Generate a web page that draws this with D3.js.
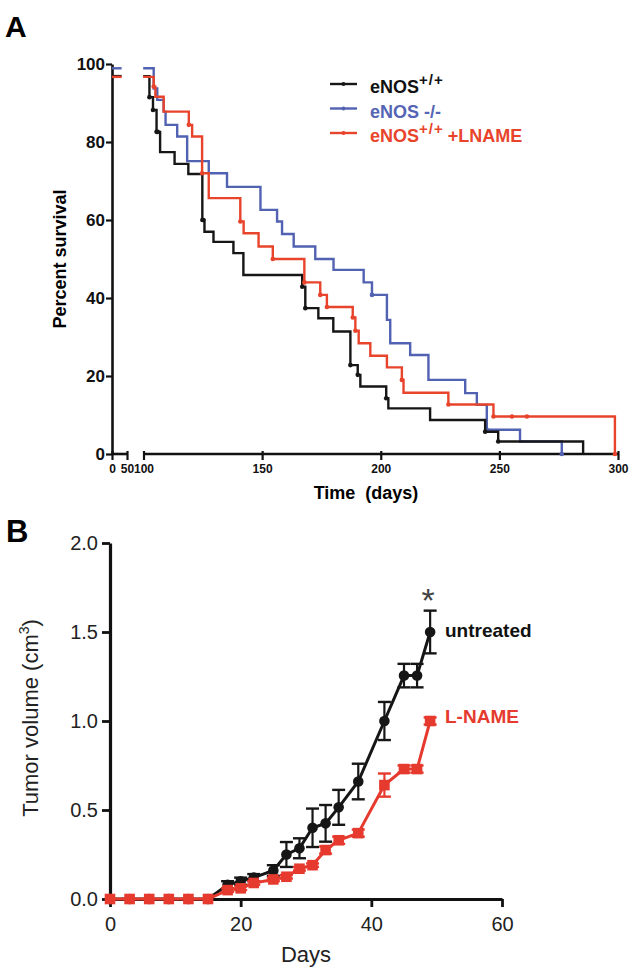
<!DOCTYPE html>
<html><head><meta charset="utf-8">
<script src="https://cdn.jsdelivr.net/npm/d3@7"></script>
<style>
body{margin:0;background:#fff}
svg{display:block}
text{font-family:"Liberation Sans",Arial,Helvetica,sans-serif}
</style>
</head><body>
<svg id="c" width="637" height="970"></svg>
<script>
// ---------- Panel A data (Kaplan-Meier) ----------
const survTicks = [0, 20, 40, 60, 80, 100];
const timeTicksLow = [0, 50];
const timeTicksHigh = [100, 150, 200, 250, 300];

const wtTimes = [99, 102.5, 104, 105.5, 107, 113.1, 118.9, 124.8, 125.7, 129.5, 137.9, 142.1, 166.9, 168.2, 173.7, 180.0, 187.2, 190.3, 191.4, 202.3, 203.2, 220.8, 244.0, 249.5, 285.3];
const wtSurv  = [96.9, 91.5, 88.2, 82.6, 77.4, 74.4, 71.8, 60.0, 57.0, 54.4, 51.5, 45.9, 42.9, 37.4, 34.8, 31.4, 22.8, 20.3, 17.3, 14.3, 11.7, 8.7, 5.7, 3.2, 0];
const wtCensor = [102.5, 104, 105.5, 106, 124.8, 125.2, 166.9, 168.2, 187.2, 190.3, 202.3, 244.0, 249.5];

const koTimes = [99, 104.3, 105.8, 108.5, 109.3, 114.2, 118.4, 127.5, 135.2, 149.3, 156.3, 158.4, 163.3, 172.4, 180.1, 192.8, 196.3, 202.6, 204.0, 212.4, 220.1, 235.6, 240.5, 244.7, 258.7, 276.3];
const koSurv  = [98.9, 93.7, 90.8, 87.8, 84.4, 81.4, 75.1, 72.0, 68.5, 62.6, 59.6, 56.4, 53.2, 50.0, 47.2, 44.0, 40.8, 34.4, 28.4, 25.4, 19.0, 15.6, 12.6, 6.2, 3.2, 0];
const koCensor = [196.3, 244.7, 276.3];

const lnTimes = [99, 104.3, 105, 108.5, 119.1, 120.5, 124.7, 127.5, 140.8, 142.2, 148.5, 154.5, 167.8, 174.5, 177.3, 188.2, 189.3, 190.7, 195.6, 202.6, 208.9, 209.6, 228.5, 247.5, 298.7];
const lnSurv  = [96.7, 94.2, 91.6, 87.8, 84.4, 81.4, 72.0, 65.6, 59.6, 56.6, 53.2, 50.0, 44.0, 40.8, 37.7, 35.0, 31.6, 28.4, 25.2, 22.2, 19.0, 15.7, 12.7, 9.6, 0];
const lnCensor = [104.3, 119.1, 124.7, 140.8, 154.5, 167.8, 174.5, 177.3, 188.2, 189.3, 208.9, 228.5, 247.5, 255.3, 261.6, 298.7];

const legendLabels = ["eNOS", "eNOS -/-", "eNOS"];

// ---------- Panel B data (tumor volume) ----------
const days = [0, 3, 6, 9, 12, 15, 18, 20, 22, 25, 27, 29, 31, 33, 35, 38, 42, 45, 47, 49];
const untreated    = [0, 0, 0, 0, 0, 0, 0.08, 0.10, 0.12, 0.16, 0.25, 0.285, 0.40, 0.425, 0.515, 0.66, 1.00, 1.255, 1.255, 1.50];
const untreatedErr = [0, 0, 0, 0, 0, 0, 0.02, 0.02, 0.02, 0.03, 0.07, 0.056, 0.108, 0.103, 0.098, 0.10, 0.107, 0.066, 0.066, 0.12];
const lname    = [0, 0, 0, 0, 0, 0, 0.05, 0.06, 0.09, 0.11, 0.125, 0.17, 0.19, 0.275, 0.33, 0.37, 0.64, 0.73, 0.73, 1.0];
const lnameErr = [0, 0, 0, 0, 0, 0, 0.01, 0.01, 0.01, 0.01, 0.01, 0.01, 0.01, 0.02, 0.02, 0.02, 0.065, 0.02, 0.02, 0.02];
const volTicks = [0, 0.5, 1.0, 1.5, 2.0];
const dayTicks = [0, 20, 40, 60];

// ---------- colours ----------
const C_BLACK = "#161616", C_BLUE = "#5262b2", C_RED = "#e8442c", C_RED_B = "#e63a2e";

const svg = d3.select("#c");

// ================= PANEL A =================
const xA = d3.scaleLinear().domain([0, 50, 100, 300]).range([112, 127, 143.5, 618]);
const yA = d3.scaleLinear().domain([0, 100]).range([454, 64]);

svg.append("text").attr("x", 5).attr("y", 37).attr("font-size", 30).attr("font-weight", "bold").text("A");

const gyA = svg.append("g").attr("transform", "translate(112,0)")
  .call(d3.axisLeft(yA).tickValues(survTicks).tickSize(6).tickPadding(1).tickSizeOuter(0));
gyA.select(".domain").attr("stroke", "#111").attr("stroke-width", 2.6);
gyA.selectAll(".tick line").attr("stroke", "#111").attr("stroke-width", 2.2);
gyA.selectAll(".tick text").attr("font-size", 17).attr("font-weight", "bold").attr("fill", "#111")
  .attr("font-family", '"Liberation Sans",Arial,sans-serif');

function xAxisPiece(ticks) {
  const g = svg.append("g").attr("transform", "translate(0,454)")
    .call(d3.axisBottom(xA).tickValues(ticks).tickSize(6).tickPadding(4));
  g.select(".domain").remove();
  g.append("line").attr("x1", xA(ticks[0])).attr("x2", xA(ticks[ticks.length - 1]))
    .attr("y1", 0).attr("y2", 0).attr("stroke", "#111").attr("stroke-width", 2.6);
  g.selectAll(".tick line").attr("stroke", "#111").attr("stroke-width", 2.2).attr("y1", -3);
  g.selectAll(".tick text").attr("font-size", 12).attr("font-weight", "bold").attr("fill", "#111")
    .attr("font-family", '"Liberation Sans",Arial,sans-serif');
  return g;
}
xAxisPiece(timeTicksLow);
xAxisPiece(timeTicksHigh);

svg.append("text").attr("transform", "translate(66,259) rotate(-90)")
  .attr("text-anchor", "middle").attr("font-size", 18).attr("font-weight", "bold").text("Percent survival");
svg.append("text").attr("x", 366).attr("y", 499).attr("text-anchor", "middle")
  .attr("font-size", 18).attr("font-weight", "bold").style("white-space", "pre").text("Time  (days)");

const stepLine = d3.line().x(d => xA(d[0])).y(d => yA(d[1])).curve(d3.curveStepAfter);
const flatLine = d3.line().x(d => xA(d[0])).y(d => yA(d[1]));

function survAt(times, surv, t) {
  let v = surv[0];
  for (let i = 0; i < times.length; i++) if (times[i] <= t) v = surv[i];
  return v;
}

function drawKM(times, surv, censor, color) {
  const g = svg.append("g");
  g.append("path").attr("d", flatLine([[0, surv[0]], [32, surv[0]]]))
    .attr("fill", "none").attr("stroke", color).attr("stroke-width", 2.4);
  g.append("path").attr("d", stepLine(times.map((t, i) => [t, surv[i]])))
    .attr("fill", "none").attr("stroke", color).attr("stroke-width", 2.4);
  g.selectAll("circle").data(censor).join("circle")
    .attr("cx", d => xA(d)).attr("cy", d => yA(survAt(times, surv, d)))
    .attr("r", 2.3).attr("fill", color);
}
drawKM(koTimes, koSurv, koCensor, C_BLUE);
drawKM(wtTimes, wtSurv, wtCensor, C_BLACK);
drawKM(lnTimes, lnSurv, lnCensor, C_RED);

// legend
const legColors = [C_BLACK, C_BLUE, C_RED];
const legBase = [93, 117.5, 142];
legendLabels.forEach((lab, i) => {
  const y = legBase[i];
  svg.append("line").attr("x1", 330).attr("x2", 357).attr("y1", y - 9).attr("y2", y - 9)
    .attr("stroke", legColors[i]).attr("stroke-width", 2.4);
  svg.append("circle").attr("cx", 343.5).attr("cy", y - 9).attr("r", 2).attr("fill", legColors[i]);
  const t = svg.append("text").attr("x", 370).attr("y", y).attr("font-size", 18)
    .attr("font-weight", "bold").attr("fill", i === 0 ? "#111" : (i === 1 ? "#5565b5" : C_RED));
  t.append("tspan").text(lab);
  if (i !== 1) {
    t.append("tspan").attr("font-size", 15).attr("dy", -8).attr("letter-spacing", 1).text("+/+");
  }
  if (i === 2) {
    t.append("tspan").attr("dy", 8).attr("dx", 4).text("+LNAME");
  }
});

// ================= PANEL B =================
const xB = d3.scaleLinear().domain([0, 60]).range([110, 502]);
const yB = d3.scaleLinear().domain([0, 2]).range([899, 543]);

svg.append("text").attr("x", 6).attr("y", 542).attr("font-size", 31).attr("font-weight", "bold").text("B");

const gyB = svg.append("g").attr("transform", "translate(110,0)")
  .call(d3.axisLeft(yB).tickValues(volTicks).tickFormat(d3.format(".1f")).tickSize(8).tickPadding(4).tickSizeOuter(0));
gyB.select(".domain").attr("stroke", "#111").attr("stroke-width", 3.2);
gyB.selectAll(".tick line").attr("stroke", "#111").attr("stroke-width", 2.8);
gyB.selectAll(".tick text").attr("font-size", 20).attr("fill", "#222")
  .attr("font-family", '"Liberation Sans",Arial,sans-serif');

const gxB = svg.append("g").attr("transform", "translate(0,899)")
  .call(d3.axisBottom(xB).tickValues(dayTicks).tickSize(8).tickPadding(10).tickSizeOuter(0));
gxB.select(".domain").attr("stroke", "#111").attr("stroke-width", 3.2);
gxB.selectAll(".tick line").attr("stroke", "#111").attr("stroke-width", 2.8);
gxB.selectAll(".tick text").attr("font-size", 20).attr("fill", "#222")
  .attr("font-family", '"Liberation Sans",Arial,sans-serif');

svg.append("text").attr("x", 306).attr("y", 962).attr("text-anchor", "middle").attr("font-size", 22).attr("fill", "#222").text("Days");
const yl = svg.append("text").attr("transform", "translate(38,718) rotate(-90)")
  .attr("text-anchor", "middle").attr("font-size", 22).attr("fill", "#222");
yl.append("tspan").text("Tumor volume (cm");
yl.append("tspan").attr("font-size", 14).attr("dy", -9).text("3");
yl.append("tspan").attr("dy", 9).text(")");

const lineB = d3.line().x(d => xB(d[0])).y(d => yB(d[1]));

function drawSeries(vals, errs, color, shape) {
  const g = svg.append("g");
  const pts = days.map((d, i) => [d, vals[i], errs[i]]);
  pts.filter(p => p[2] > 0).forEach(p => {
    const x = xB(p[0]), y1 = yB(p[1] + p[2]), y2 = yB(p[1] - p[2]);
    g.append("line").attr("x1", x).attr("x2", x).attr("y1", y1).attr("y2", y2).attr("stroke", color).attr("stroke-width", 2.2);
    g.append("line").attr("x1", x - 6.5).attr("x2", x + 6.5).attr("y1", y1).attr("y2", y1).attr("stroke", color).attr("stroke-width", 2.4);
    g.append("line").attr("x1", x - 6.5).attr("x2", x + 6.5).attr("y1", y2).attr("y2", y2).attr("stroke", color).attr("stroke-width", 2.4);
  });
  g.append("path").attr("d", lineB(pts)).attr("fill", "none").attr("stroke", color).attr("stroke-width", 3);
  if (shape === "circle") {
    g.selectAll("circle").data(pts).join("circle")
      .attr("cx", p => xB(p[0])).attr("cy", p => yB(p[1])).attr("r", 5.3).attr("fill", color);
  } else {
    g.selectAll("rect").data(pts).join("rect")
      .attr("x", p => xB(p[0]) - 5.3).attr("y", p => yB(p[1]) - 5.3).attr("width", 10.6).attr("height", 10.6).attr("fill", color);
  }
}
drawSeries(untreated, untreatedErr, C_BLACK, "circle");
drawSeries(lname, lnameErr, C_RED_B, "square");

svg.append("text").attr("x", 445).attr("y", 637).attr("font-size", 19).attr("font-weight", "bold").attr("fill", "#111").text("untreated");
svg.append("text").attr("x", 445).attr("y", 723).attr("font-size", 19).attr("font-weight", "bold").attr("fill", C_RED_B).text("L-NAME");
svg.append("text").attr("x", xB(days[days.length - 1]) - 2).attr("y", 612).attr("text-anchor", "middle")
  .attr("font-size", 34).attr("fill", "#444").text("*");
</script>
</body></html>
